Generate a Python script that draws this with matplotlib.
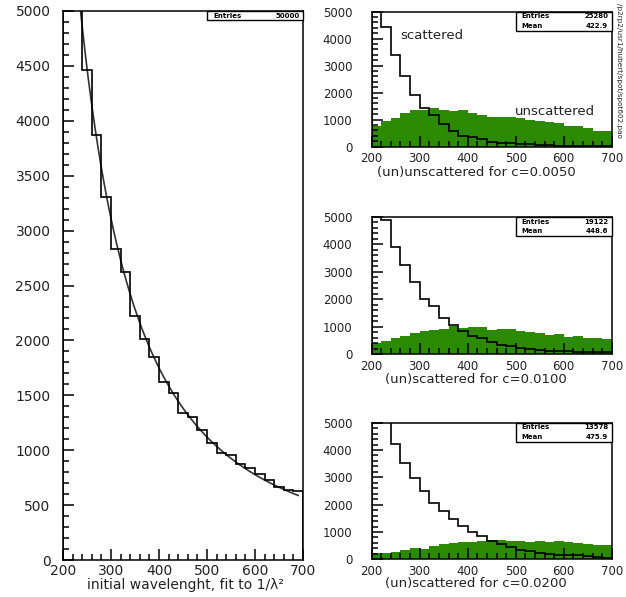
import numpy as np
import matplotlib
matplotlib.use("Agg")
import matplotlib.pyplot as plt
from matplotlib.patches import Rectangle
from matplotlib.ticker import MultipleLocator

# bin edges, 25 bins of 20 from 200 to 700
edges = np.arange(200, 701, 20)

# initial wavelength (left panel)
initial = [6290, 5410, 4463, 3868, 3303, 2832, 2626, 2222, 2010, 1852,
           1625, 1524, 1342, 1300, 1187, 1065, 975, 956, 874, 835,
           783, 729, 668, 638, 630]

# c = 0.0050
scat_1 = [5600, 4444, 3396, 2618, 1926, 1422, 1174, 841, 593, 407,
          348, 274, 185, 148, 126, 100, 89, 80, 45, 40,
          38, 35, 32, 30, 28]
unscat_1 = [767, 963, 1052, 1237, 1359, 1359, 1422, 1359, 1322, 1359,
            1237, 1174, 1111, 1086, 1086, 1052, 988, 963, 926, 864,
            767, 767, 680, 593, 593]

# c = 0.0100
scat_2 = [5900, 4900, 3888, 3242, 2620, 2023, 1755, 1316, 1072, 841,
          658, 573, 427, 341, 305, 219, 195, 158, 122, 110,
          97, 85, 73, 73, 61]
unscat_2 = [394, 486, 602, 660, 764, 833, 880, 926, 1040, 950,
            996, 996, 880, 926, 926, 833, 810, 775, 694, 741,
            625, 660, 602, 602, 532]

# c = 0.0200
scat_3 = [6000, 5200, 4207, 3537, 2976, 2488, 2061, 1768, 1463, 1220,
          988, 854, 671, 561, 463, 341, 293, 244, 195, 171,
          146, 146, 110, 98, 49]
unscat_3 = [220, 220, 280, 341, 402, 378, 500, 561, 585, 646,
            646, 671, 707, 707, 683, 671, 646, 683, 646, 683,
            634, 585, 561, 537, 512]

stats = [("25280", "422.9"), ("19122", "448.6"), ("13578", "475.9")]
titles = ["(un)unscattered for c=0.0050", "(un)scattered for c=0.0100",
          "(un)scattered for c=0.0200"]

W, H = 626, 597
green = "#2b8a00"
txt = "#222222"


def px_axes(fig, x0, y0, x1, y1):
    return fig.add_axes([x0 / W, 1 - y1 / H, (x1 - x0) / W, (y1 - y0) / H])


def style_axes(ax, ymajor, yminor, size, ypad, xpad):
    ax.set_xlim(200, 700)
    ax.set_ylim(0, 5000)
    ax.xaxis.set_major_locator(MultipleLocator(100))
    ax.xaxis.set_minor_locator(MultipleLocator(20))
    ax.yaxis.set_major_locator(MultipleLocator(ymajor))
    ax.yaxis.set_minor_locator(MultipleLocator(yminor))
    ax.tick_params(which="both", direction="in", top=False, right=False,
                   width=1.1, colors="black", labelcolor=txt)
    ax.tick_params(which="major", length=8, labelsize=size)
    ax.tick_params(which="minor", length=4)
    ax.tick_params(axis="y", pad=ypad)
    ax.tick_params(axis="x", pad=xpad)
    for s in ax.spines.values():
        s.set_linewidth(1.1)
    ax.set_axisbelow(False)


def stats_box(ax, rows, height):
    ax.add_patch(Rectangle((0.6, 1 - height), 0.4, height, transform=ax.transAxes,
                           facecolor="white", edgecolor="black", lw=1.0,
                           zorder=5, clip_on=False))
    n = len(rows)
    for i, (k, v) in enumerate(rows):
        yc = 1 - height * (i + 0.5) / n
        ax.text(0.625, yc, k, transform=ax.transAxes, fontsize=5, weight="bold",
                va="center", ha="left", zorder=6)
        ax.text(0.985, yc, v, transform=ax.transAxes, fontsize=5, weight="bold",
                va="center", ha="right", zorder=6)


fig = plt.figure(figsize=(W / 100, H / 100), dpi=100)

# left panel
ax0 = px_axes(fig, 63, 11, 303, 560)
ax0.stairs(initial, edges, color="black", lw=1.2, zorder=3)
centers = (edges[:-1] + edges[1:]) / 2
h = np.array(initial, dtype=float)
A = np.sum(h / centers**2) / np.sum(1 / centers**4)
lam = np.linspace(200, 690, 300)
ax0.plot(lam, A / lam**2, color="#333333", lw=1.2, zorder=2)
style_axes(ax0, 500, 100, 10, 9, 3)
stats_box(ax0, [("Entries", "50000")], 9 / 549)
fig.text(185 / W, 1 - 585 / H, "initial wavelenght, fit to 1/\u03bb\u00b2",
         ha="center", va="center", fontsize=10, color=txt)

# right panels
boxes = [(11.7, 146.7), (217, 354), (422.7, 559.3)]
title_y = [172, 379, 584]
scat = [scat_1, scat_2, scat_3]
unscat = [unscat_1, unscat_2, unscat_3]
for i in range(3):
    y0, y1 = boxes[i]
    ax = px_axes(fig, 371.7, y0, 611.7, y1)
    ax.stairs(unscat[i], edges, fill=True, color=green, lw=0, zorder=1)
    ax.stairs(scat[i], edges, color="black", lw=1.2, zorder=3)
    style_axes(ax, 1000, 200, 8.5, 14, 4)
    stats_box(ax, [("Entries", stats[i][0]), ("Mean", stats[i][1])], 19 / (y1 - y0))
    fig.text(476 / W, 1 - title_y[i] / H, titles[i], ha="center", va="center",
             fontsize=9.5, color=txt)
    if i == 0:
        ax.text(259, 4137, "scattered", fontsize=9.5, va="center", ha="left",
                color=txt)
        ax.text(498, 1322, "unscattered", fontsize=9.5, va="center", ha="left",
                color=txt)

fig.text(619 / W, 1 - 3 / H, "/p2rp2/usr1/hubert/spot/spot602.pao", rotation=270,
         ha="center", va="top", fontsize=5.2, color=txt)

fig.savefig("out.png", dpi=100)
